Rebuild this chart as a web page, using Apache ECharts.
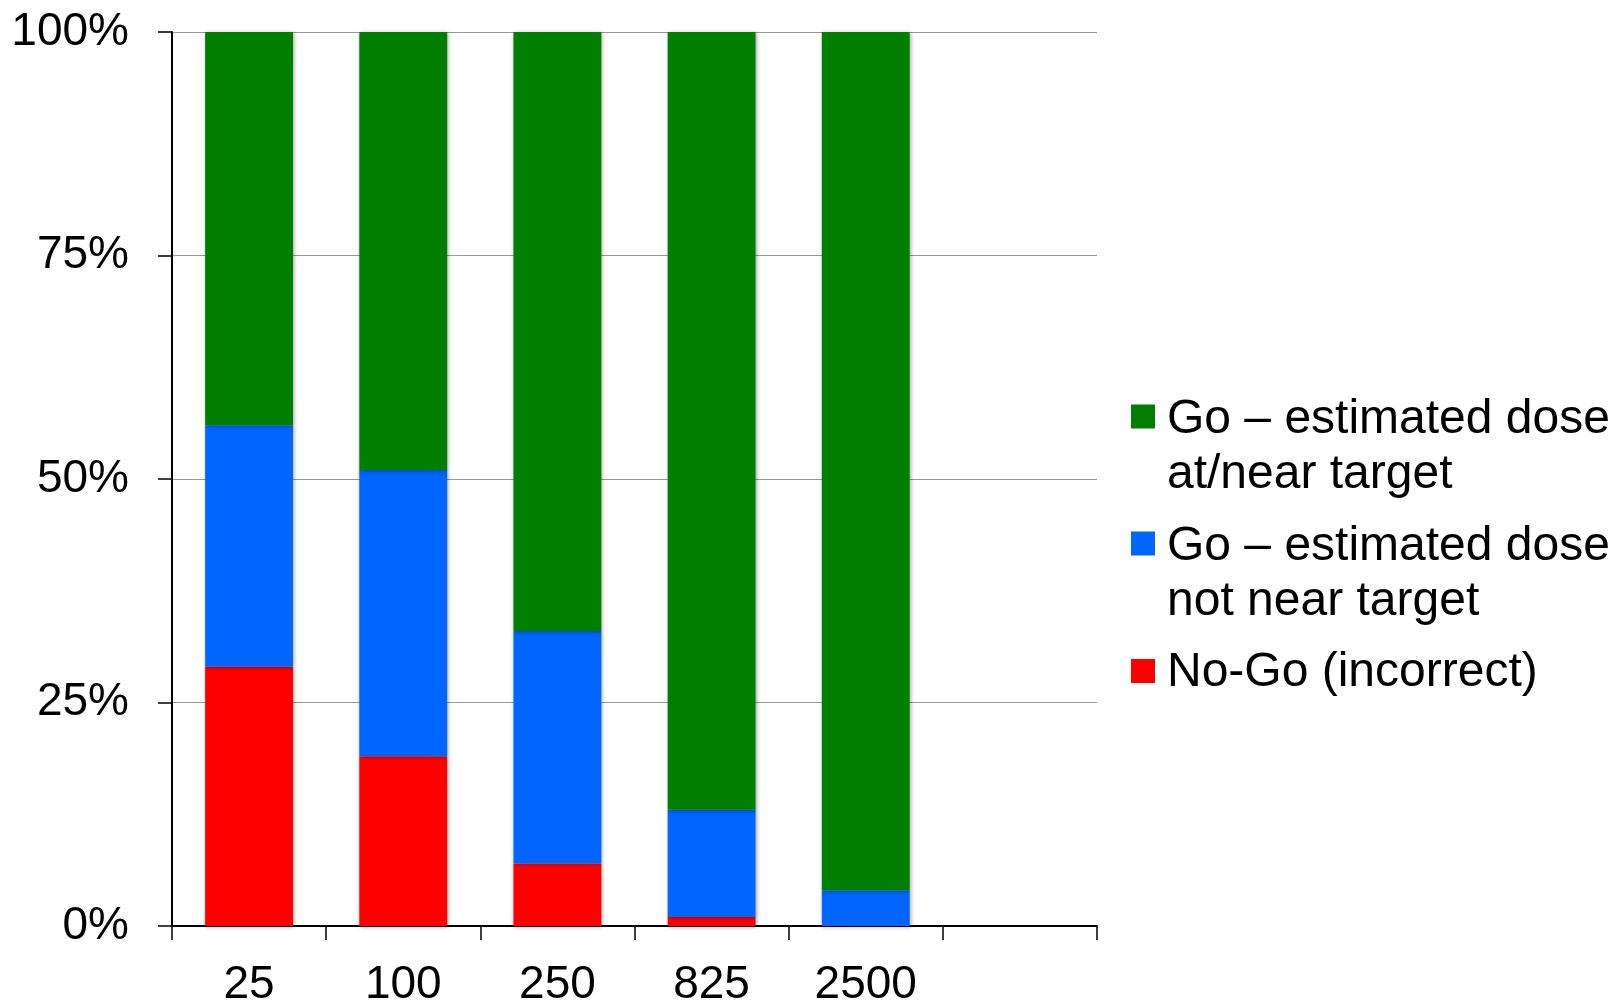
<!DOCTYPE html>
<html>
<head>
<meta charset="utf-8">
<script src="https://cdn.jsdelivr.net/npm/echarts@6/dist/echarts.min.js"></script>
<style>
  html, body { margin: 0; padding: 0; background: #ffffff; }
  #chart { width: 1614px; height: 1002px; }
</style>
</head>
<body>
<div id="chart"></div>
<script>
// Dose categories (the last slot is left empty on purpose)
const categories = ['25', '100', '250', '825', '2500', ''];

// Share of decisions per dose (percent)
const noGoIncorrect = [29, 19, 7, 1, 0];
const goNotNearTarget = [27, 32, 26, 12, 4];
const goNearTarget = [44, 49, 67, 87, 96];

// Y axis ticks
const yTicks = [0, 25, 50, 75, 100];

const seriesNames = {
  near: 'Go \u2013 estimated dose\nat/near target',
  notNear: 'Go \u2013 estimated dose\nnot near target',
  noGo: 'No-Go (incorrect)'
};

const colors = {
  near: '#007f00',
  notNear: '#0066ff',
  noGo: '#ff0000'
};

const FONT = "'Liberation Sans', Arial, Helvetica, sans-serif";

const barShadow = {
  shadowBlur: 4,
  shadowColor: 'rgba(0,0,0,0.35)',
  shadowOffsetX: 1,
  shadowOffsetY: 1
};

// Square swatches for the legend. The invisible end points stretch the icon
// box to the text height so the square sits beside the first text line.
const twoLineIcon = 'path://M0,0L0,0M0,12.5L24,12.5L24,36.5L0,36.5ZM0,110L0,110';
const oneLineIcon = 'path://M0,0L0,0M0,14L24,14L24,38L0,38ZM0,55L0,55';

function legendBlock(name, top, icon, iconHeight) {
  return {
    show: true,
    orient: 'vertical',
    left: 1131,
    top: top,
    padding: 0,
    itemWidth: 24,
    itemHeight: iconHeight,
    selectedMode: false,
    textStyle: {
      fontFamily: FONT,
      fontSize: 48,
      lineHeight: 55,
      color: '#000000',
      padding: [0, 0, 0, 7]
    },
    data: [{ name: name, icon: icon }]
  };
}

const chart = echarts.init(document.getElementById('chart'), null, { renderer: 'canvas' });

chart.setOption({
  backgroundColor: '#ffffff',
  animation: false,
  grid: {
    left: 172,
    right: 517,
    top: 32,
    bottom: 76,
    containLabel: false,
    outerBoundsMode: 'none'
  },
  legend: [
    legendBlock(seriesNames.near, 392, twoLineIcon, 110),
    legendBlock(seriesNames.notNear, 519, twoLineIcon, 110),
    legendBlock(seriesNames.noGo, 645, oneLineIcon, 55)
  ],
  xAxis: {
    type: 'category',
    data: categories,
    boundaryGap: true,
    axisLine: { show: true, lineStyle: { color: '#000000', width: 2 } },
    axisTick: {
      show: true,
      alignWithLabel: false,
      inside: false,
      length: 14,
      lineStyle: { color: '#000000', width: 1.5 }
    },
    axisLabel: {
      margin: 36,
      fontFamily: FONT,
      fontSize: 46,
      color: '#000000'
    },
    splitLine: { show: false }
  },
  yAxis: {
    type: 'value',
    min: yTicks[0],
    max: yTicks[yTicks.length - 1],
    interval: yTicks[1] - yTicks[0],
    axisLine: { show: true, lineStyle: { color: '#000000', width: 2 } },
    axisTick: {
      show: true,
      inside: false,
      length: 14,
      lineStyle: { color: '#000000', width: 1.5 }
    },
    axisLabel: {
      margin: 43,
      fontFamily: FONT,
      fontSize: 46,
      color: '#000000',
      formatter: '{value}%'
    },
    splitLine: { show: true, lineStyle: { color: '#999999', width: 1.2 } }
  },
  series: [
    {
      name: seriesNames.noGo,
      type: 'bar',
      stack: 'total',
      barCategoryGap: '43%',
      data: noGoIncorrect,
      itemStyle: Object.assign({ color: colors.noGo }, barShadow)
    },
    {
      name: seriesNames.notNear,
      type: 'bar',
      stack: 'total',
      barCategoryGap: '43%',
      data: goNotNearTarget,
      itemStyle: Object.assign({ color: colors.notNear }, barShadow)
    },
    {
      name: seriesNames.near,
      type: 'bar',
      stack: 'total',
      barCategoryGap: '43%',
      data: goNearTarget,
      itemStyle: Object.assign({ color: colors.near }, barShadow)
    }
  ]
});
</script>
</body>
</html>
